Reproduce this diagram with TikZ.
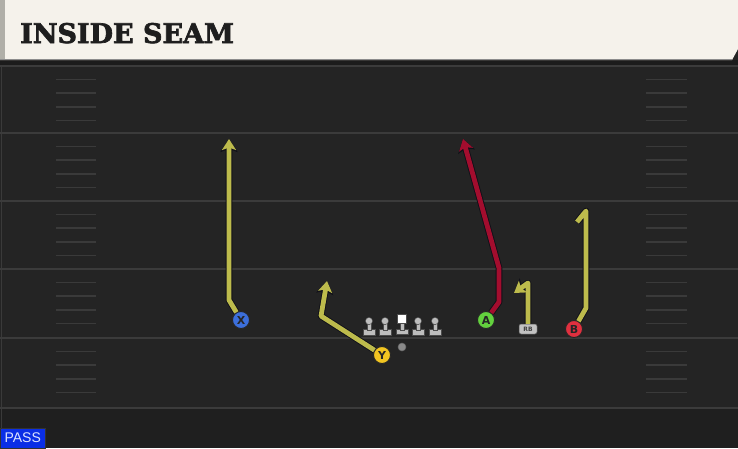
\documentclass[tikz,border=0pt]{standalone}
\usepackage{fontspec}
\usetikzlibrary{arrows.meta}
\newfontfamily\titlefont{DejaVu Serif}[UprightFeatures={FakeBold=2.5},BoldFeatures={FakeBold=2.5}]
\newfontfamily\lblfont{DejaVu Sans}
\newfontfamily\passfont{Liberation Sans}
\definecolor{field}{HTML}{242424}
\definecolor{darkzone}{HTML}{1F1F1F}
\definecolor{strip}{HTML}{1C1C1C}
\definecolor{yardc}{HTML}{3B3B3B}
\definecolor{hashc}{HTML}{3A3A3A}
\definecolor{cream}{HTML}{F5F2EB}
\definecolor{barside}{HTML}{B0AFA8}
\definecolor{titletext}{HTML}{1E1E1E}
\definecolor{yroute}{HTML}{BDBB4C}
\definecolor{rroute}{HTML}{A30D2E}
\definecolor{routeedge}{HTML}{101018}
\definecolor{xblue}{HTML}{3C6FDB}
\definecolor{yyellow}{HTML}{F2C521}
\definecolor{agreen}{HTML}{63D13E}
\definecolor{bred}{HTML}{E0303F}
\definecolor{lmgray}{HTML}{BDBDBD}
\definecolor{qbgray}{HTML}{8A8A8A}
\definecolor{rbgray}{HTML}{C2C2C2}
\definecolor{passblue}{HTML}{0A2EE6}
\definecolor{passtext}{HTML}{DCE3FF}
\tikzset{
  yard/.style={draw=yardc, line width=2pt},
  hash/.style={draw=hashc, line width=1.5pt},
  player/.style={circle, draw=black!85, line width=0.9pt, minimum size=17pt, inner sep=0pt,
    font=\lblfont\bfseries\fontsize{11}{11}\selectfont, text=black!85},
  route/.style={draw=#1, line width=4.8pt, line join=round,
    preaction={draw=routeedge, line width=6.6pt, line join=round,
      -{Stealth[length=13pt,width=17pt,inset=3pt]}},
    -{Stealth[length=11pt,width=14pt,inset=2.5pt]}},
  routeplain/.style={draw=#1, line width=4.8pt, line join=round,
    preaction={draw=routeedge, line width=6.6pt, line join=round}},
  lmpart/.style={fill=lmgray, draw=black!70, line width=0.5pt},
  lineman/.pic={
    \path[lmpart] (-6,8) rectangle (6,14);
    \path[lmpart] (-1.8,0) rectangle (1.8,9);
    \path[lmpart] (0,0) circle (3.6);
  },
  centerman/.pic={
    \path[lmpart] (-6,8) rectangle (6,13);
    \path[lmpart] (-1.8,2) rectangle (1.8,9);
    \path[fill=white, draw=black!70, line width=0.5pt] (-4.5,-7) rectangle (4.5,2);
  }
}
\begin{document}
\begin{tikzpicture}[x=1pt,y=-1pt]
\useasboundingbox (0,0) rectangle (738,448);
% field
\fill[field] (0,0) rectangle (738,448);
\fill[darkzone] (0,408) rectangle (738,448);
\fill[strip] (0,60) rectangle (738,66);
\draw[hashc, line width=1pt] (1,66) -- (1,448);
\foreach \y in {66,133,201,269,338,408} \draw[yard] (0,\y) -- (738,\y);
\foreach \y in {66,133,201,269,338}
  \foreach \d in {13.5,27,41,54.5} {
    \draw[hash] (56,{\y+\d}) -- (96,{\y+\d});
    \draw[hash] (646,{\y+\d}) -- (687,{\y+\d});
  }
% title bar
\fill[cream] (0,0) -- (738,0) -- (738,49) -- (732,60) -- (0,60) -- cycle;
\fill[barside] (0,0) rectangle (5,60);
\draw[black!45, line width=1pt] (0,59.5) -- (732,59.5);
\node[anchor=base west, inner sep=0pt, text=titletext,
  font=\titlefont\bfseries\fontsize{27}{27}\selectfont] (title) at (20,43) {INSIDE SEAM};
% offensive line and QB
\pic at (369,321) {lineman};
\pic at (385,321) {lineman};
\pic at (402,321) {centerman};
\pic at (418,321) {lineman};
\pic at (435,321) {lineman};
\node[circle, fill=qbgray, draw=black!60, line width=0.5pt, minimum size=8pt, inner sep=0pt] (qb) at (402,347) {};
% players
\node[player, fill=xblue] (x) at (241,320) {X};
\node[player, fill=yyellow] (y) at (382,355) {Y};
\node[player, fill=agreen] (a) at (486,320) {A};
\node[player, fill=bred] (b) at (574,329) {B};
\node[rounded corners=2pt, fill=rbgray, draw=black!70, line width=0.5pt, minimum width=18pt,
  minimum height=10pt, inner sep=0pt, font=\lblfont\bfseries\fontsize{6}{6}\selectfont,
  text=black!75] (rb) at (528,329) {RB};
% route points
\coordinate (x1) at (229,300); \coordinate (x2) at (229,139);
\coordinate (y1) at (321,316); \coordinate (y2) at (327,281);
\coordinate (a1) at (499,302); \coordinate (a2) at (499,268); \coordinate (a3) at (463,139);
\coordinate (r1) at (528,283); \coordinate (r2) at (514,293);
\coordinate (b1) at (586,308); \coordinate (b2) at (586,211); \coordinate (b3) at (577,222);
% routes
\draw[route=yroute] (x) -- (x1) -- (x2);
\draw[route=yroute] (y) -- (y1) -- (y2);
\draw[route=rroute] (a) -- (a1) -- (a2) -- (a3);
\draw[route=yroute] (rb) -- (r1) -- (r2);
\draw[routeplain=yroute] (b) -- (b1) -- (b2) -- (b3);
% pass label
\node[fill=passblue, draw=black!80, line width=0.5pt, anchor=south west, minimum width=45pt,
  minimum height=20pt, inner sep=0pt, text=passtext,
  font=\passfont\fontsize{14}{14}\selectfont] (pass) at (0,448) {PASS};
\end{tikzpicture}
\end{document}
